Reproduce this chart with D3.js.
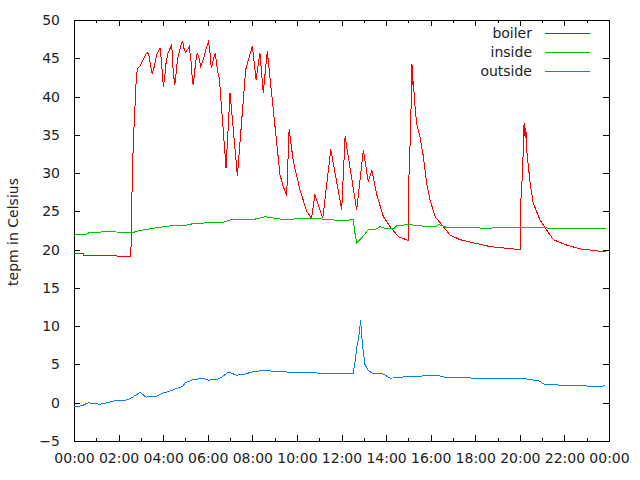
<!DOCTYPE html>
<html>
<head>
<meta charset="utf-8">
<script src="https://cdn.jsdelivr.net/npm/d3@7"></script>
<style>
  body { margin: 0; background: #fff; }
  svg { font-family: 'DejaVu Sans', sans-serif; font-size: 14px; }
  .axis-line { shape-rendering: crispEdges; }
  .series { fill: none; stroke-width: 1; shape-rendering: crispEdges; }
</style>
</head>
<body>
<div id="chart"></div>
<script>
// temperatures over one day, hours since midnight
const boilerHours = [0, 0.42, 0.45, 1.92, 1.95, 2.55, 2.62, 2.66, 2.70, 2.75, 2.79, 2.84, 2.96, 3.11, 3.22, 3.29, 3.35, 3.44,
  3.51, 3.60, 3.71, 3.80, 3.86, 3.92, 3.96, 4.01, 4.07, 4.13, 4.22, 4.31, 4.37, 4.41, 4.45, 4.52, 4.58, 4.65, 4.76, 4.83,
  4.88, 4.93, 5.01, 5.08, 5.17, 5.25, 5.31, 5.35, 5.40, 5.46, 5.53, 5.61, 5.68, 5.77, 5.88, 5.98, 6.04, 6.10, 6.16, 6.22,
  6.28, 6.34, 6.43, 6.52, 6.82, 7.00, 7.33, 7.70, 8.00, 8.17, 8.34, 8.49, 8.67,
  9.24, 9.36, 9.54, 9.65, 9.84, 10.14, 10.44, 10.66, 10.81, 11.16, 11.52, 12.01, 12.16, 12.68, 12.98, 13.20, 13.36, 13.58,
  13.88, 14.18, 14.55, 15.00, 15.03, 15.10, 15.16, 15.20, 15.23, 15.27, 15.37, 15.52, 15.67, 15.82, 15.97, 16.20, 16.57,
  16.87, 17.32, 17.91, 18.66, 20.01, 20.04, 20.12, 20.19, 20.24, 20.27, 20.31, 20.46, 20.60, 20.90, 21.50, 22.10, 22.70,
  23.30, 23.87];
const boilerTemps = [19.5, 19.5, 19.2, 19.2, 19.15, 19.15, 30.2, 33.7, 36.6, 39.6, 42.2, 43.6, 44.0, 44.9, 45.5, 45.7, 45.6, 43.9,
  43.0, 43.9, 45.5, 46.0, 46.3, 44.8, 43.1, 41.2, 42.6, 44.4, 45.7, 46.3, 46.8, 45.7, 43.3, 41.5, 43.1, 45.0, 46.3, 47.0,
  47.2, 46.3, 45.8, 46.1, 46.5, 44.6, 42.2, 41.5, 42.8, 44.6, 45.7, 45.0, 43.9, 44.6, 45.7, 46.8, 47.2, 45.7, 43.7, 44.4,
  45.2, 45.7, 43.5, 42.4, 30.7, 40.5, 29.6, 43.5, 46.6, 42.2, 45.7, 40.5, 45.9,
  29.8, 28.5, 27.0, 35.7, 31.5, 27.8, 25.0, 24.1, 27.2, 24.1, 33.1, 25.2, 34.8, 25.2, 33.0, 28.9, 30.4, 27.2,
  24.3, 23.0, 21.7, 21.2, 30.0, 35.7, 44.3, 41.5, 42.0, 39.6, 36.5, 34.8, 32.2, 28.7, 26.5, 24.3, 23.0,
  21.9, 21.3, 20.9, 20.4, 20.0, 26.1, 30.0, 36.5, 34.6, 35.9, 33.0, 28.7, 26.1, 23.9, 21.3, 20.6, 20.1,
  19.9, 19.7];

const insideHours = [0, 0.3, 0.5, 0.72, 0.94, 1.47, 1.92, 2.59, 2.96, 3.56, 4.31, 4.90, 5.35, 5.95, 6.33, 6.70, 7.15, 7.60, 8.00,
  8.57, 9.24, 9.84, 10.74, 11.34, 11.93, 12.53, 12.60, 12.68, 12.90, 13.20, 13.50, 13.73, 13.95, 14.33, 14.48, 15.00,
  15.52, 16.27, 16.35, 16.72, 17.50, 18.50, 19.50, 20.50, 21.50, 22.50, 23.87];
const insideTemps = [21.9, 22.0, 21.9, 22.3, 22.2, 22.4, 22.3, 22.2, 22.5, 22.8, 23.1, 23.1, 23.4, 23.5, 23.6, 23.6, 24.0, 23.9, 23.9,
  24.3, 24.0, 24.0, 24.1, 23.95, 23.8, 23.9, 22.2, 20.9, 21.5, 22.6, 22.6, 23.0, 22.8, 22.7, 23.1, 23.3,
  23.1, 23.0, 23.3, 22.9, 22.9, 22.8, 22.9, 22.9, 22.8, 22.8, 22.8];

const outsideHours = [0, 0.35, 0.64, 1.17, 1.54, 1.99, 2.21, 2.51, 2.96, 3.23, 3.71, 4.01, 4.31, 4.61, 4.88, 4.98, 5.35, 5.80,
  6.03, 6.40, 6.63, 6.92, 7.30, 7.60, 8.04, 8.49, 9.09, 9.84, 10.74, 11.18, 11.78, 12.53, 12.60, 12.68, 12.80, 12.86,
  12.90, 12.95, 13.05, 13.20, 13.43, 13.88, 14.18, 14.77, 15.67, 16.42, 16.72, 17.47, 18.07, 18.51, 19.26, 20.16,
  20.46, 20.83, 21.13, 21.95, 22.85, 23.15, 23.82];
const outsideTemps = [-0.5, -0.4, 0.0, -0.2, 0.04, 0.35, 0.26, 0.52, 1.35, 0.74, 0.87, 1.27, 1.53, 1.87, 2.13, 2.57, 3.04, 3.17,
  2.96, 3.0, 3.36, 4.0, 3.6, 3.7, 4.05, 4.2, 4.1, 3.96, 3.96, 3.75, 3.88, 3.88, 5.2, 7.1, 9.1, 10.8,
  8.9, 7.4, 5.0, 4.2, 3.8, 3.75, 3.2, 3.36, 3.5, 3.5, 3.27, 3.36, 3.14, 3.2, 3.2, 3.2,
  3.0, 2.9, 2.35, 2.3, 2.3, 2.1, 2.2];

const seriesNames = ['boiler', 'inside', 'outside'];
const seriesColors = ['#ff0000', '#00c000', '#0080ff'];
const yTicks = [-5, 0, 5, 10, 15, 20, 25, 30, 35, 40, 45, 50];
const xMajorTicks = [0, 2, 4, 6, 8, 10, 12, 14, 16, 18, 20, 22, 24];
const yLabel = 'tepm in Celsius';

const config = {
  width: 640,
  height: 480,
  margin: {top: 20, right: 31, bottom: 39, left: 74},
  majorTick: 6,
  minorTick: 3
};

const innerW = config.width - config.margin.left - config.margin.right;
const innerH = config.height - config.margin.top - config.margin.bottom;

const svg = d3.select('#chart').append('svg')
  .attr('width', config.width)
  .attr('height', config.height);

const chart = svg.append('g')
  .attr('transform', `translate(${config.margin.left},${config.margin.top})`);

const x = d3.scaleLinear().domain([0, 24]).range([0, innerW]);
const y = d3.scaleLinear().domain([-5, 50]).range([innerH, 0]);

const fmtHour = h => String(h % 24).padStart(2, '0') + ':00';
const minorHours = d3.range(1, 24, 2);

// axes: gnuplot style, ticks pointing inward on all four sides
const xBottom = d3.axisBottom(x).tickValues(xMajorTicks).tickFormat(fmtHour).tickSizeInner(-config.majorTick).tickSizeOuter(0).tickPadding(12);
const xTop = d3.axisTop(x).tickValues(xMajorTicks).tickFormat('').tickSizeInner(-config.majorTick).tickSizeOuter(0);
const yLeft = d3.axisLeft(y).tickValues(yTicks).tickSizeInner(-config.majorTick).tickSizeOuter(0).tickPadding(14);
const yRight = d3.axisRight(y).tickValues(yTicks).tickFormat('').tickSizeInner(-config.majorTick).tickSizeOuter(0);

const styleAxis = g => {
  g.attr('class', 'axis-line');
  g.select('.domain').remove();
  g.selectAll('line').attr('stroke', '#000');
  g.selectAll('text').attr('fill', '#222').style('font-size', '14px').style('font-family', "'DejaVu Sans', sans-serif");
};

chart.append('g').attr('transform', `translate(0,${innerH})`).call(xBottom).call(styleAxis);
chart.append('g').call(xTop).call(styleAxis);
chart.append('g').call(yLeft).call(styleAxis);
chart.append('g').attr('transform', `translate(${innerW},0)`).call(yRight).call(styleAxis);

chart.append('g').attr('transform', `translate(0,${innerH})`)
  .call(d3.axisBottom(x).tickValues(minorHours).tickFormat('').tickSizeInner(-config.minorTick).tickSizeOuter(0))
  .call(styleAxis);
chart.append('g')
  .call(d3.axisTop(x).tickValues(minorHours).tickFormat('').tickSizeInner(-config.minorTick).tickSizeOuter(0))
  .call(styleAxis);

// border
chart.append('rect')
  .attr('class', 'axis-line')
  .attr('x', 0).attr('y', 0)
  .attr('width', innerW).attr('height', innerH)
  .attr('fill', 'none')
  .attr('stroke', '#000');

// series
const allSeries = [
  d3.zip(boilerHours, boilerTemps),
  d3.zip(insideHours, insideTemps),
  d3.zip(outsideHours, outsideTemps)
];

const line = d3.line().x(d => x(d[0])).y(d => y(d[1]));

chart.selectAll('.series')
  .data(allSeries)
  .join('path')
  .attr('class', 'series')
  .attr('stroke', (d, i) => seriesColors[i])
  .attr('d', line);

// legend (top right, inside plot)
const legend = svg.append('g')
  .attr('transform', 'translate(532,33)');

const legendRow = legend.selectAll('.legend-row')
  .data(seriesNames)
  .join('g')
  .attr('class', 'legend-row')
  .attr('transform', (d, i) => `translate(0,${i * 19})`);

legendRow.append('text')
  .attr('text-anchor', 'end')
  .attr('dy', '.35em')
  .attr('fill', '#222')
  .text(d => d);

legendRow.append('line')
  .attr('class', 'axis-line')
  .attr('x1', 13).attr('x2', 58)
  .attr('stroke', (d, i) => seriesColors[i]);

// y axis title
svg.append('text')
  .attr('transform', `translate(17.5,232) rotate(-90)`)
  .attr('text-anchor', 'middle')
  .attr('fill', '#222')
  .text(yLabel);
</script>
</body>
</html>
